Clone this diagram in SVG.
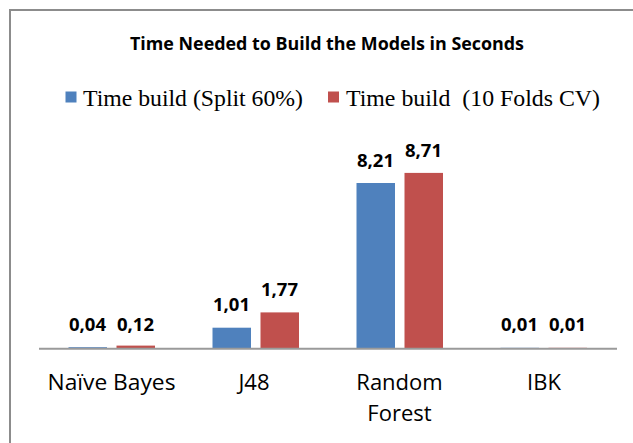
<svg xmlns="http://www.w3.org/2000/svg" width="633" height="443" viewBox="0 0 633 443">
<style>
.title{font-family:"Open Sans","Liberation Sans",sans-serif;font-weight:bold;font-size:18px;fill:#000}
.leg{font-family:"Liberation Serif","Times New Roman",serif;font-size:24px;fill:#000}
.val{font-family:"Open Sans","Liberation Sans",sans-serif;font-weight:bold;font-size:18.5px;fill:#000;text-anchor:middle}
.cat{font-family:"Open Sans","Liberation Sans",sans-serif;font-size:22px;fill:#000;text-anchor:middle}
.b{fill:#4F81BD}
.r{fill:#C0504D}
</style>
<rect x="0" y="0" width="633" height="443" fill="#fff"/>
<path d="M10,443 V10 H633" fill="none" stroke="#8c8c8c" stroke-width="2"/>
<text class="title" x="327" y="50" text-anchor="middle" textLength="394" lengthAdjust="spacingAndGlyphs">Time Needed to Build the Models in Seconds</text>
<g id="legend">
<rect class="b" x="65.5" y="91.5" width="11" height="11"/>
<text class="leg" x="83" y="106" textLength="220" lengthAdjust="spacingAndGlyphs">Time build (Split 60%)</text>
<rect class="r" x="328" y="91.5" width="11" height="11"/>
<text class="leg" x="346" y="106" xml:space="preserve" textLength="254" lengthAdjust="spacingAndGlyphs">Time build  (10 Folds CV)</text>
</g>
<g id="naive-bayes">
<rect class="b" x="68.5" y="347.2" width="38.5" height="0.8"/>
<rect class="r" x="116.5" y="345.6" width="38.5" height="2.4"/>
<text class="val" x="87.5" y="330.5">0,04</text>
<text class="val" x="135.5" y="330.5">0,12</text>
<text class="cat" x="111.5" y="390" textLength="128" lengthAdjust="spacingAndGlyphs">Naïve Bayes</text>
</g>
<g id="j48">
<rect class="b" x="212.5" y="327.7" width="38.5" height="20.3"/>
<rect class="r" x="260.5" y="312.4" width="38.5" height="35.6"/>
<text class="val" x="231.5" y="310.5">1,01</text>
<text class="val" x="279.5" y="296">1,77</text>
<text class="cat" x="254" y="390">J48</text>
</g>
<g id="random-forest">
<rect class="b" x="356.5" y="183" width="38.5" height="165"/>
<rect class="r" x="404.5" y="172.9" width="38.5" height="175.1"/>
<text class="val" x="375.5" y="166.5">8,21</text>
<text class="val" x="423.5" y="156.5">8,71</text>
<text class="cat" x="399.5" y="390">Random</text>
<text class="cat" x="399.5" y="420.5">Forest</text>
</g>
<g id="ibk">
<rect class="b" x="500.5" y="347.8" width="38.5" height="0.2"/>
<rect class="r" x="548.5" y="347.8" width="38.5" height="0.2"/>
<text class="val" x="519.5" y="331">0,01</text>
<text class="val" x="567.5" y="331">0,01</text>
<text class="cat" x="544" y="390">IBK</text>
</g>
<g id="axis">
<line x1="39" y1="348.8" x2="617" y2="348.8" stroke="#9a9a9a" stroke-width="2"/>
</g>
</svg>
